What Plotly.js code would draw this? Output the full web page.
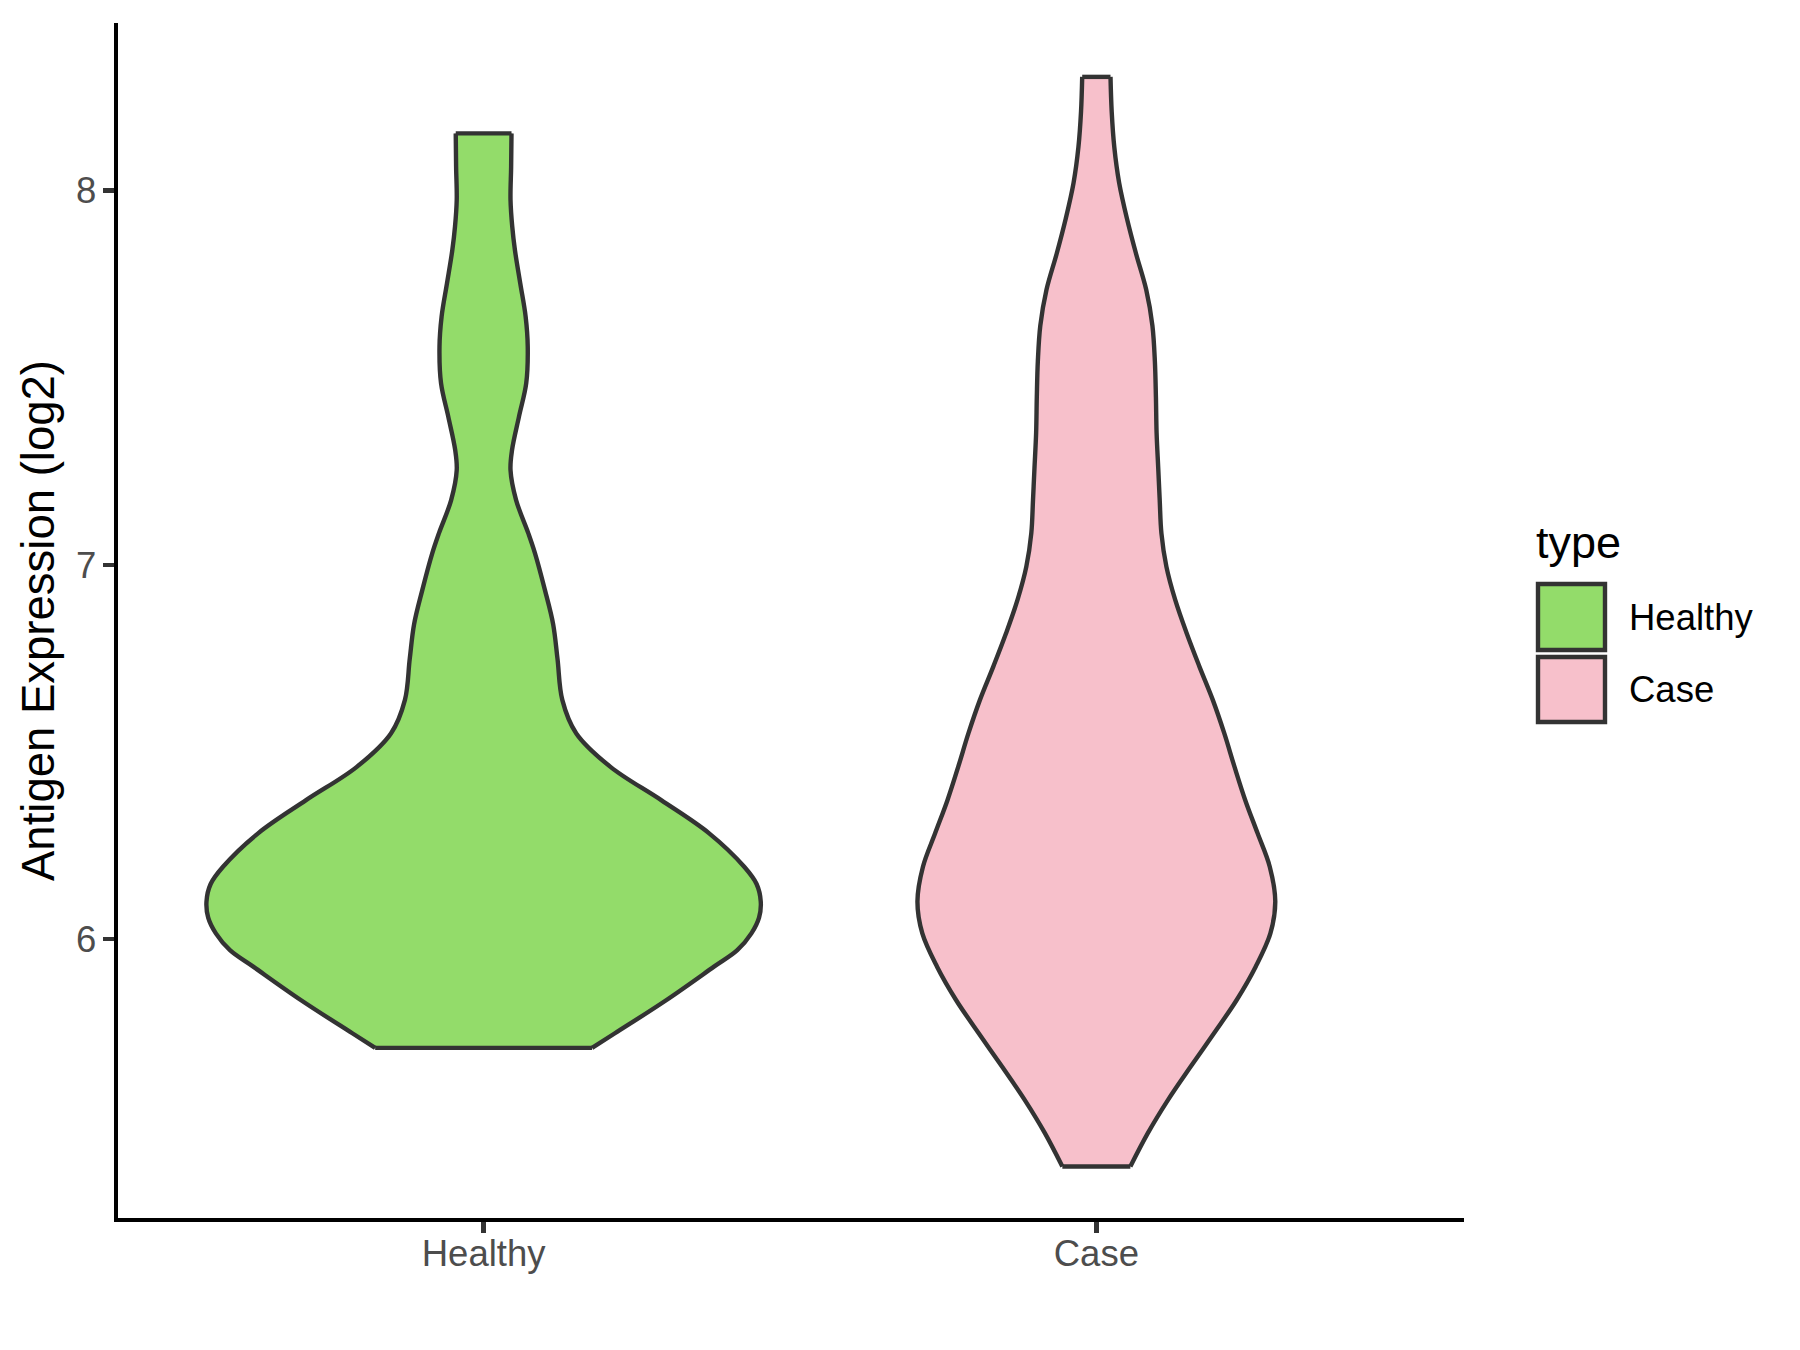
<!DOCTYPE html>
<html>
<head>
<meta charset="utf-8">
<script src="https://cdn.plot.ly/plotly-3.0.1.min.js"></script>
<style>html,body{margin:0;padding:0;background:#fff;}</style>
</head>
<body>
<div id="chart" style="width:1800px;height:1350px;"></div>
<script>
// ---- data ----
const categories = ['Healthy', 'Case'];
const legendTitle = 'type';
const yTitle = 'Antigen Expression (log2)';
const yTicks = [6, 7, 8];

// Healthy violin: expression levels (log2) and half-width of the density outline (x units)
const healthyLevels = [5.709, 5.748, 5.837, 5.926, 5.970, 6.015, 6.057, 6.100, 6.147, 6.193, 6.283, 6.371, 6.460, 6.550, 6.639, 6.748, 6.841, 6.933, 7.030, 7.084, 7.173, 7.253, 7.307, 7.396, 7.485, 7.583, 7.663, 7.752, 7.841, 7.904, 7.975, 8.064, 8.153];
const healthyWidths = [0.177, 0.2143, 0.2985, 0.376, 0.414, 0.437, 0.4495, 0.4523, 0.4455, 0.4253, 0.3676, 0.2898, 0.207, 0.151, 0.1284, 0.1206, 0.1135, 0.100, 0.084, 0.073, 0.053, 0.0439, 0.0464, 0.0577, 0.0695, 0.072, 0.0686, 0.0598, 0.0511, 0.0467, 0.0439, 0.0449, 0.0455];

// Case violin
const caseLevels = [5.392, 5.481, 5.570, 5.659, 5.748, 5.837, 5.926, 6.015, 6.100, 6.193, 6.283, 6.371, 6.460, 6.550, 6.639, 6.728, 6.817, 6.906, 6.995, 7.084, 7.173, 7.258, 7.353, 7.448, 7.544, 7.639, 7.735, 7.830, 7.925, 8.021, 8.116, 8.212, 8.304];
const caseWidths = [0.0555, 0.084, 0.117, 0.154, 0.192, 0.229, 0.260, 0.284, 0.292, 0.283, 0.263, 0.243, 0.2255, 0.2087, 0.190, 0.1682, 0.1474, 0.1287, 0.1143, 0.1062, 0.1034, 0.101, 0.0983, 0.0972, 0.0955, 0.0915, 0.0814, 0.065, 0.05, 0.0372, 0.0293, 0.025, 0.0231];

// ---- styling ----
const FONT = 'Liberation Sans, Arial, Helvetica, sans-serif';
const fillColors = ['#93DC6A', '#F7C0CB'];
const outline = '#333333';
const LW = 4.4;
const W = 1800, H = 1350;
const M = {l: 118, r: 336, t: 23, b: 132};

// each violin: left side (spline), right side (spline, filled to the left side), flat trimmed ends
function violin(pos, levels, widths, name, color) {
  const n = levels.length;
  const left = {
    type: 'scatter', mode: 'lines', name: name,
    x: levels.map((v, i) => pos - widths[i]), y: levels.slice(),
    line: {color: outline, width: LW, shape: 'spline', smoothing: 1},
    hoverinfo: 'skip', showlegend: false
  };
  const right = {
    type: 'scatter', mode: 'lines', name: name,
    x: levels.map((v, i) => pos + widths[i]), y: levels.slice(),
    fill: 'tonextx', fillcolor: color,
    line: {color: outline, width: LW, shape: 'spline', smoothing: 1},
    hoverinfo: 'skip', showlegend: false
  };
  const ends = {
    type: 'scatter', mode: 'lines', name: name,
    x: [pos - widths[0], pos + widths[0], null, pos - widths[n - 1], pos + widths[n - 1]],
    y: [levels[0], levels[0], null, levels[n - 1], levels[n - 1]],
    line: {color: outline, width: LW},
    hoverinfo: 'skip', showlegend: false
  };
  return [left, right, ends];
}

const traces = [].concat(
  violin(1, healthyLevels, healthyWidths, categories[0], fillColors[0]),
  violin(2, caseLevels, caseWidths, categories[1], fillColors[1])
);

// pixel -> paper helpers for the hand-drawn legend
const pw = W - M.l - M.r, ph = H - M.t - M.b;
const px = v => (v - M.l) / pw;
const py = v => (H - M.b - v) / ph;

const keyBoxes = [[584, 650], [657, 722]];
const shapes = categories.map((c, i) => ({
  type: 'rect', xref: 'paper', yref: 'paper',
  x0: px(1538), x1: px(1605), y0: py(keyBoxes[i][1]), y1: py(keyBoxes[i][0]),
  fillcolor: fillColors[i], line: {color: outline, width: LW}
}));

const annotations = [
  {text: legendTitle, xref: 'paper', yref: 'paper', x: px(1534), y: py(542), xanchor: 'left', yanchor: 'middle',
   showarrow: false, font: {family: FONT, size: 45, color: '#000000'}}
].concat(categories.map((c, i) => ({
  text: c, xref: 'paper', yref: 'paper', x: px(1627), y: py((keyBoxes[i][0] + keyBoxes[i][1]) / 2),
  xanchor: 'left', yanchor: 'middle', showarrow: false,
  font: {family: FONT, size: 36.5, color: '#000000'}
})));

const axisCommon = {
  showline: true, linecolor: '#000000', linewidth: 4.4,
  ticks: 'outside', ticklen: 11, tickwidth: 4.4, tickcolor: outline,
  tickfont: {family: FONT, size: 36.5, color: '#4D4D4D'},
  showgrid: false, zeroline: false, fixedrange: true
};

const layout = {
  width: W, height: H,
  margin: M,
  paper_bgcolor: '#ffffff', plot_bgcolor: '#ffffff',
  font: {family: FONT},
  showlegend: false,
  xaxis: Object.assign({}, axisCommon, {
    range: [0.4033, 2.6], tickmode: 'array', tickvals: [1, 2], ticktext: categories,
    ticklabelstandoff: -11
  }),
  yaxis: Object.assign({}, axisCommon, {
    range: [5.2543, 8.448], tickmode: 'array', tickvals: yTicks, ticktext: yTicks.map(String),
    ticklabelstandoff: -1,
    title: {text: yTitle, font: {family: FONT, size: 45.5, color: '#000000'}, standoff: 8}
  }),
  shapes: shapes,
  annotations: annotations
};

Plotly.newPlot('chart', traces, layout, {staticPlot: true, displayModeBar: false});
</script>
</body>
</html>
